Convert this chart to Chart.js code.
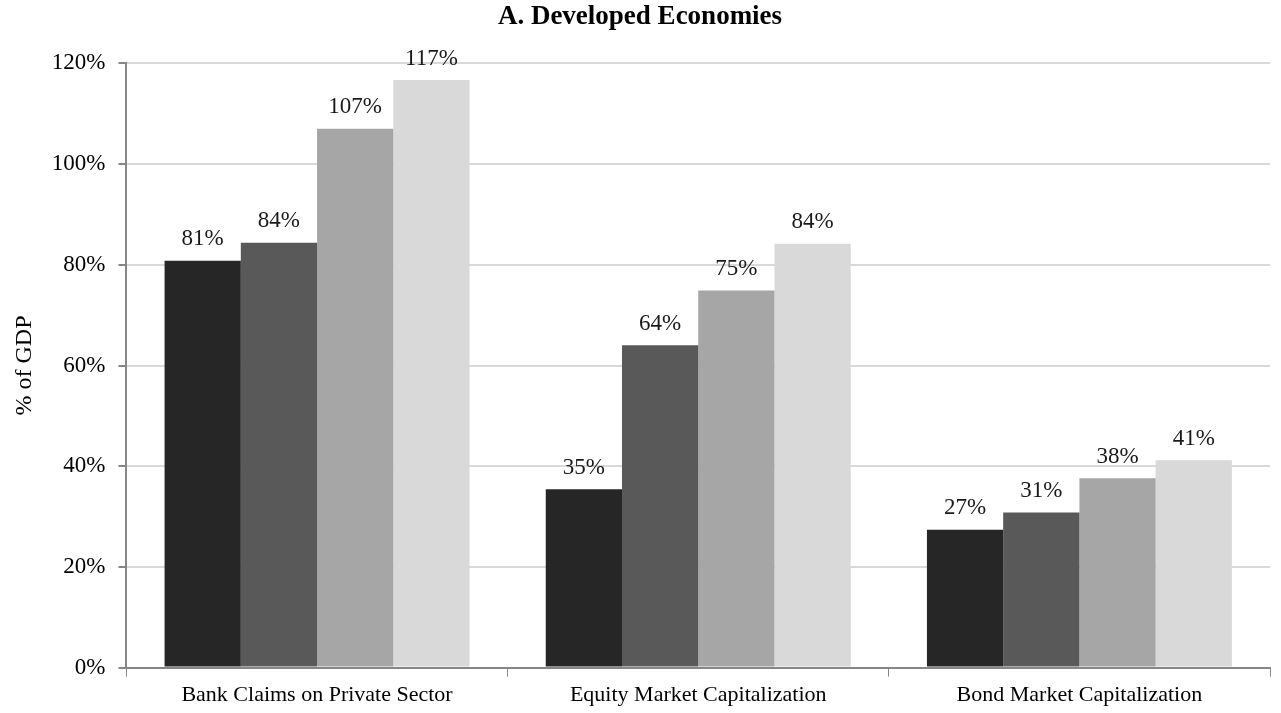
<!DOCTYPE html>
<html>
<head>
<meta charset="utf-8">
<script src="https://cdn.jsdelivr.net/npm/chart.js@4/dist/chart.umd.min.js"></script>
<style>
html,body{margin:0;padding:0;background:#fff;}
#wrap{width:1281px;height:713px;position:relative;}
</style>
</head>
<body>
<div id="wrap"><canvas id="c"></canvas></div>
<script>
const categories = ["Bank Claims on Private Sector", "Equity Market Capitalization", "Bond Market Capitalization"];
const series1 = [80.8, 35.4, 27.4];
const series2 = [84.4, 64.0, 30.8];
const series3 = [107.0, 74.9, 37.6];
const series4 = [116.7, 84.2, 41.2];
const labels1 = ["81%", "35%", "27%"];
const labels2 = ["84%", "64%", "31%"];
const labels3 = ["107%", "75%", "38%"];
const labels4 = ["117%", "84%", "41%"];
const yTicks = [0, 20, 40, 60, 80, 100, 120];

const FONT = "'Liberation Serif', 'DejaVu Serif', serif";
const colors = ["#262626", "#595959", "#a6a6a6", "#d9d9d9"];
const allLabels = [labels1, labels2, labels3, labels4];

const dataLabelPlugin = {
  id: 'dataLabels',
  afterDatasetsDraw(chart) {
    const ctx = chart.ctx;
    ctx.save();
    ctx.font = "23px " + FONT;
    ctx.fillStyle = "#1a1a1a";
    ctx.textAlign = "center";
    ctx.textBaseline = "bottom";
    chart.data.datasets.forEach((ds, i) => {
      const meta = chart.getDatasetMeta(i);
      meta.data.forEach((bar, j) => {
        ctx.fillText(allLabels[i][j], bar.x, bar.y - 10);
      });
    });
    ctx.restore();
  }
};

new Chart(document.getElementById('c'), {
  type: 'bar',
  data: {
    labels: categories,
    datasets: [
      { label: "Series 1", data: series1, backgroundColor: colors[0] },
      { label: "Series 2", data: series2, backgroundColor: colors[1] },
      { label: "Series 3", data: series3, backgroundColor: colors[2] },
      { label: "Series 4", data: series4, backgroundColor: colors[3] }
    ]
  },
  options: {
    responsive: true,
    maintainAspectRatio: false,
    animation: false,
    layout: { padding: { left: 10, right: 11, top: 1, bottom: 0 } },
    datasets: { bar: { categoryPercentage: 0.8, barPercentage: 1.0, borderWidth: 0 } },
    plugins: {
      legend: { display: false },
      tooltip: { enabled: false },
      title: {
        display: true,
        text: "A. Developed Economies",
        color: "#000",
        font: { family: FONT, size: 27, weight: 'bold' },
        padding: { top: 0, bottom: 30 }
      }
    },
    scales: {
      x: {
        grid: { display: true, drawOnChartArea: false, drawTicks: true, tickLength: 9, color: "#868686", tickColor: "#868686", offset: true },
        border: { display: true, color: "#868686", width: 2 },
        ticks: { color: "#000", font: { family: FONT, size: 22 }, padding: 5, maxRotation: 0 }
      },
      y: {
        min: 0, max: 120,
        afterBuildTicks(axis) { axis.ticks = yTicks.map(v => ({ value: v })); },
        grid: { color: "#d9d9d9", lineWidth: 2, tickColor: "#868686", tickLength: 8 },
        border: { display: true, color: "#868686", width: 2 },
        ticks: { color: "#000", font: { family: FONT, size: 23 }, padding: 13, callback: v => v + "%" },
        title: { display: true, text: "% of GDP", color: "#000", font: { family: FONT, size: 24 }, padding: { top: 0, bottom: 0 } }
      }
    }
  },
  plugins: [dataLabelPlugin]
});
</script>
</body>
</html>
